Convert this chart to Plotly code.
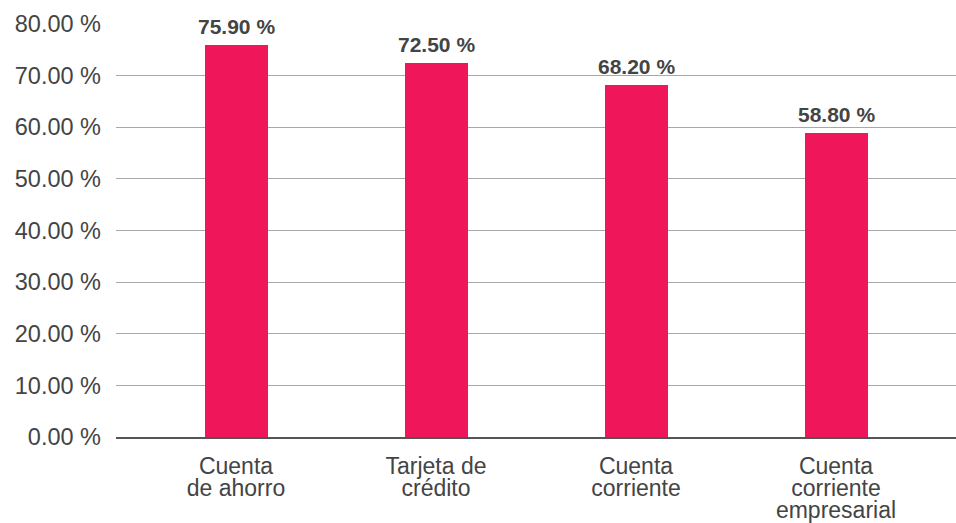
import plotly.graph_objects as go

categories = ["Cuenta<br>de ahorro", "Tarjeta de<br>crédito", "Cuenta<br>corriente", "Cuenta<br>corriente<br>empresarial"]
values = [75.90, 72.50, 68.20, 58.80]
y_ticks = [0, 10, 20, 30, 40, 50, 60, 70, 80]

BAR = "#EF1659"
TXT = "#444444"
FONT = "Liberation Sans, Arial, Helvetica, sans-serif"

xpos = list(range(len(categories)))
tick_text = ['<span style="font-size:23px">' + c + '</span>' for c in categories]

fig = go.Figure(go.Bar(
    x=xpos, y=values, width=0.315,
    marker=dict(color=BAR, line=dict(width=0)),
    hoverinfo="skip",
))

for i, v in zip(xpos, values):
    fig.add_annotation(
        x=i, y=v, text=f"<b>{v:.2f} %</b>", showarrow=False,
        xref="x", yref="y", yanchor="bottom", yshift=5,
        font=dict(size=21, color=TXT, family=FONT),
    )

fig.update_layout(
    width=956, height=523,
    margin=dict(l=116, r=0, t=24, b=83),
    plot_bgcolor="white", paper_bgcolor="white",
    showlegend=False,
    font=dict(family=FONT, color=TXT),
    bargap=0,
)
fig.update_xaxes(
    range=[-0.6, 3.6], tickmode="array", tickvals=xpos, ticktext=tick_text,
    showgrid=False, showline=True, linecolor="#555555", linewidth=1.5,
    tickfont=dict(size=17, color=TXT, family=FONT), ticks="", ticklabelstandoff=15,
)
fig.update_yaxes(
    range=[0, 80], tickmode="array", tickvals=y_ticks,
    ticktext=[f"{v:.2f} %" for v in y_ticks],
    showgrid=True, gridcolor="#a8a8a8", gridwidth=1,
    zeroline=False, showline=False, ticks="",
    tickfont=dict(size=23.5, color=TXT, family=FONT), ticklabelstandoff=14,
)

fig.write_html(
    "out.html",
    config={"displayModeBar": False},
    post_script="document.body.style.margin='0';document.body.style.overflow='hidden';",
)
